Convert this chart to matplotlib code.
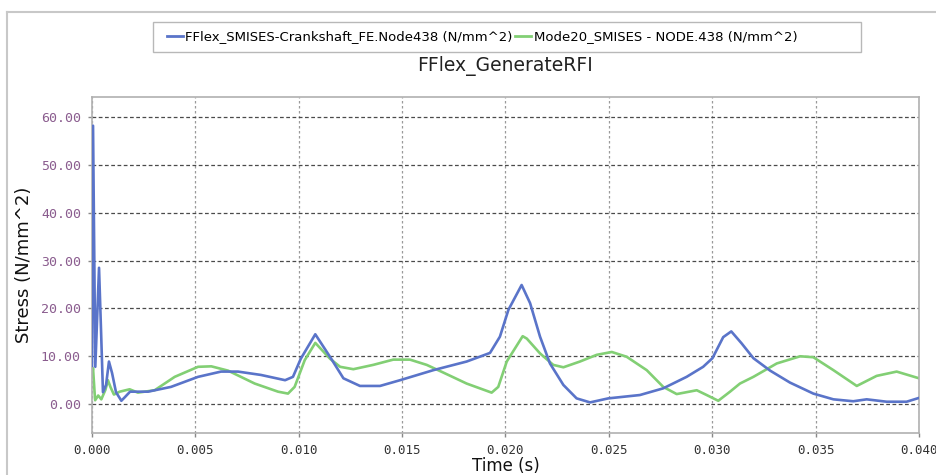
import matplotlib
matplotlib.use("Agg")
import matplotlib.pyplot as plt
from matplotlib.lines import Line2D
from matplotlib.patches import Rectangle

# Time samples (s) and stress values (N/mm^2) for each curve
t_fflex = [0.0, 0.00005, 0.00016, 0.00034, 0.00044, 0.00053, 0.00068, 0.00082,
           0.00097, 0.00116, 0.00142, 0.0016, 0.00184, 0.00271, 0.00382, 0.00513,
           0.00624, 0.00706, 0.00817, 0.00934, 0.00972, 0.0101, 0.0108, 0.01151,
           0.01216, 0.01296, 0.01393, 0.0149, 0.01651, 0.01812, 0.01925, 0.01973,
           0.02014, 0.02078, 0.02119, 0.02167, 0.02215, 0.0228, 0.02344, 0.02409,
           0.02497, 0.0265, 0.02763, 0.02876, 0.02956, 0.03001, 0.03053, 0.03092,
           0.03142, 0.03199, 0.0328, 0.03376, 0.03489, 0.03586, 0.03682, 0.03747,
           0.03844, 0.0394, 0.04]
s_fflex = [8.0, 58.2, 7.8, 28.5, 15.0, 2.5, 4.0, 8.9,
           6.5, 2.5, 0.7, 1.5, 2.6, 2.6, 3.6, 5.7,
           6.8, 6.8, 6.1, 5.0, 5.7, 9.5, 14.6, 9.9,
           5.4, 3.8, 3.8, 5.0, 7.1, 8.9, 10.7, 14.1,
           19.7, 24.9, 21.1, 14.1, 8.5, 4.0, 1.2, 0.36,
           1.2, 1.9, 3.3, 5.7, 7.8, 9.6, 14.0, 15.2,
           12.7, 9.6, 7.0, 4.5, 2.2, 1.0, 0.6, 1.0,
           0.5, 0.5, 1.3]

t_mode = [0.0, 0.00005, 0.00015, 0.0003, 0.00045, 0.00065, 0.00077, 0.0009,
          0.00106, 0.00134, 0.00182, 0.00222, 0.00303, 0.004, 0.00513, 0.00577,
          0.00658, 0.00787, 0.009, 0.00948, 0.0098, 0.01029, 0.0108, 0.01151,
          0.012, 0.01264, 0.0136, 0.01457, 0.01538, 0.01619, 0.01699, 0.01812,
          0.01933, 0.01965, 0.02006, 0.02083, 0.02103, 0.02167, 0.02231, 0.0228,
          0.0236, 0.02441, 0.02514, 0.02586, 0.02683, 0.02763, 0.02828, 0.02925,
          0.02973, 0.03029, 0.03086, 0.03134, 0.03199, 0.03312, 0.03425, 0.03489,
          0.03586, 0.03699, 0.03795, 0.03892, 0.04]
s_mode = [6.0, 7.5, 0.8, 1.8, 1.0, 3.0, 5.0, 3.5,
          2.0, 2.6, 3.1, 2.4, 2.9, 5.7, 7.8, 7.9,
          7.0, 4.3, 2.6, 2.2, 3.6, 9.2, 12.8, 9.5,
          7.8, 7.3, 8.2, 9.3, 9.3, 8.2, 6.6, 4.3,
          2.4, 3.6, 8.9, 14.2, 13.7, 10.6, 8.2, 7.7,
          8.9, 10.3, 10.9, 9.9, 7.1, 3.6, 2.1, 2.9,
          1.9, 0.7, 2.6, 4.3, 5.7, 8.5, 10.0, 9.8,
          7.1, 3.8, 5.9, 6.8, 5.4]

series_labels = ["FFlex_SMISES-Crankshaft_FE.Node438 (N/mm^2)",
                 "Mode20_SMISES - NODE.438 (N/mm^2)"]
x_ticks = [0.0, 0.005, 0.010, 0.015, 0.020, 0.025, 0.030, 0.035, 0.040]
y_ticks = [0, 10, 20, 30, 40, 50, 60]

BLUE = "#5a74c9"
GREEN = "#82cf74"
NARROW = ["Liberation Sans Narrow", "DejaVu Sans"]
MONO = ["DejaVu Sans Mono"]

fig = plt.figure(figsize=(9.37, 4.75), dpi=100)
ax = fig.add_axes([92 / 937, 1 - 433.3 / 475, (919 - 92) / 937, (433.3 - 97) / 475])

ax.plot(t_fflex, s_fflex, color=BLUE, lw=1.9, solid_joinstyle="round", zorder=3)
ax.plot(t_mode, s_mode, color=GREEN, lw=1.9, solid_joinstyle="round", zorder=2)

ax.set_xlim(0, 0.040)
ax.set_ylim(-6.1, 64.2)
ax.set_xticks(x_ticks)
ax.set_xticklabels([f"{v:.3f}" for v in x_ticks], fontfamily=MONO, fontsize=9,
                   color="#333333")
ax.set_yticks(y_ticks)
ax.set_yticklabels([f"{v:.2f}" for v in y_ticks], fontfamily=MONO, fontsize=9.5,
                   color="#8a5c8e")
ax.tick_params(axis="both", length=3, width=1, color="#888888")
ax.tick_params(axis="x", pad=5)
ax.tick_params(axis="y", pad=5)

ax.yaxis.grid(True, linestyle=(0, (3, 2)), color="#4a4a4a", lw=0.9)
ax.xaxis.grid(True, linestyle=(0, (2, 2)), color="#9a9a9a", lw=0.9)
ax.set_axisbelow(True)
for sp in ax.spines.values():
    sp.set_color("#b0b0b0")
    sp.set_linewidth(1.2)

ax.set_xlabel("Time (s)", fontsize=12, labelpad=0, color="#111111")
ax.set_ylabel("Stress (N/mm^2)", fontsize=13, labelpad=6, color="#111111")
ax.set_title("FFlex_GenerateRFI", fontsize=13.5, fontfamily=NARROW, pad=19,
             color="#222222")

# Outer frame of the chart panel
fig.add_artist(Line2D([7 / 937, 7 / 937], [0, 1 - 12 / 475],
                      transform=fig.transFigure, color="#c8c8c8", lw=1.5))
fig.add_artist(Line2D([7 / 937, 1], [1 - 12 / 475, 1 - 12 / 475],
                      transform=fig.transFigure, color="#c8c8c8", lw=1.5))

# Legend box
fig.add_artist(Rectangle((153 / 937, 1 - 52 / 475), (861 - 153) / 937, 30 / 475,
                         transform=fig.transFigure, facecolor="white",
                         edgecolor="#b8b8b8", lw=1.0))
handles = [Line2D([], [], color=BLUE, lw=2.0), Line2D([], [], color=GREEN, lw=2.0)]
fig.legend(handles, series_labels, loc="center left",
           bbox_to_anchor=(155 / 937, 1 - 37 / 475), ncol=2, frameon=False,
           handlelength=1.2, handletextpad=0.2, columnspacing=0.2,
           prop={"family": NARROW, "size": 9.5})

fig.savefig("out.png", dpi=100, facecolor="white")
